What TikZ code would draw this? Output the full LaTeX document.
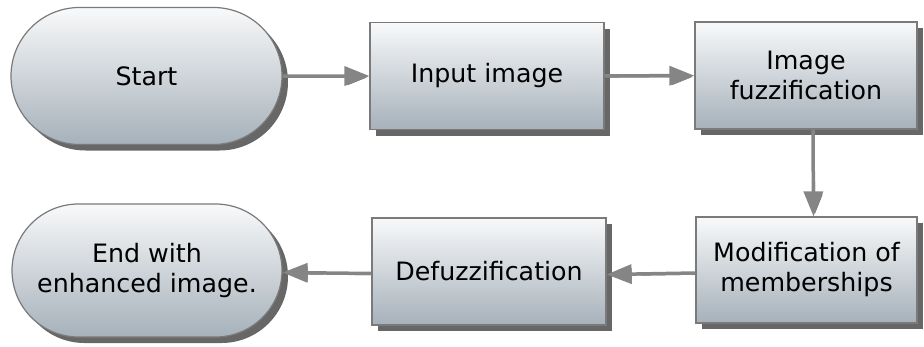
\documentclass[tikz,border=0pt]{standalone}
\usepackage{fontspec}
\setmainfont{DejaVu Sans}
\usetikzlibrary{shapes.misc,shadows,arrows.meta}
\definecolor{topc}{HTML}{F8F9FA}
\definecolor{botc}{HTML}{A6B1BA}
\definecolor{edgec}{HTML}{7A7A7A}
\definecolor{arrc}{HTML}{858585}
\begin{document}
\begin{tikzpicture}[x=1pt,y=-1pt,
 base/.style={draw=edgec, line width=1.2pt, top color=topc, bottom color=botc,
   font=\fontsize{25.3}{30}\selectfont, align=center, inner sep=0pt,
   drop shadow={shadow xshift=6pt, shadow yshift=-6pt, fill=black!70, opacity=0.85}},
 box/.style={base, rectangle},
 term/.style={base, rounded rectangle},
 conn/.style={draw=arrc, line width=3.5pt, -{Triangle[length=25pt,width=19pt]},
   preaction={draw=black!55, transform canvas={shift={(1.5pt,-1.5pt)}}}}]
\useasboundingbox (0,0) rectangle (924,346);
\node[term, minimum width=271pt, minimum height=137pt] (start) at (146.5,76) {Start};
\node[box, minimum width=234pt, minimum height=107pt] (input) at (487,76) {Input image};
\node[box, minimum width=222pt, minimum height=107pt] (fuzz) at (806,75.5) {Image\\fuzzification};
\node[box, minimum width=221pt, minimum height=106pt] (mod) at (806.5,270) {Modification of\\memberships};
\node[box, minimum width=234pt, minimum height=107pt] (defuzz) at (489,271.5) {Defuzzification};
\node[term, minimum width=270pt, minimum height=133pt] (end) at (147,270.5) {End with\\enhanced image.};
\draw[conn] (start) -- (input);
\draw[conn] (input) -- (fuzz);
\draw[conn] ([xshift=7pt]fuzz.south) -- ([xshift=7pt]mod.north);
\draw[conn] ([yshift=-3pt]mod.west) -- ([yshift=-3pt]defuzz.east);
\draw[conn] ([yshift=-2pt]defuzz.west) -- ([yshift=-2pt]end.east);
\end{tikzpicture}
\end{document}
